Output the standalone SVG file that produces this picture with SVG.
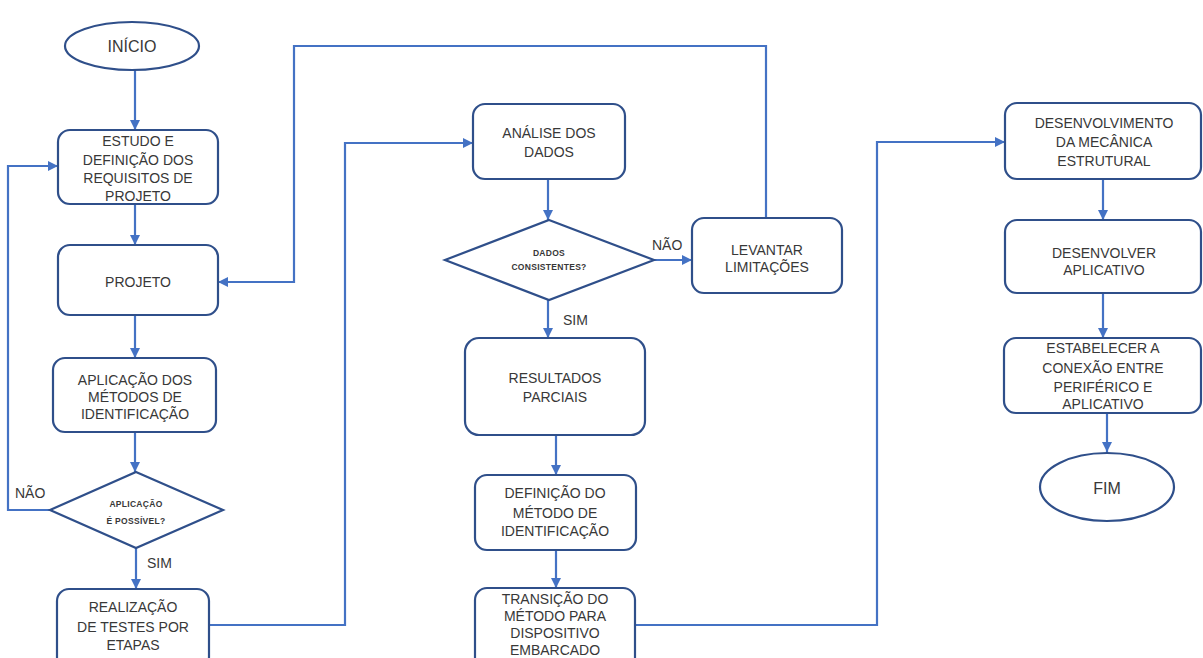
<svg xmlns="http://www.w3.org/2000/svg" width="1203" height="658" viewBox="0 0 1203 658">
<defs>
<marker id="ah" viewBox="0 0 10 10" refX="10" refY="5" markerWidth="10" markerHeight="10" markerUnits="userSpaceOnUse" orient="auto">
<path d="M0,0 L10,5 L0,10 Z" fill="#4472C4"/>
</marker>
<style>
.box{fill:#ffffff;stroke:#2F4F8A;stroke-width:2.2}
.con{fill:none;stroke:#4472C4;stroke-width:2.2}
.arr{marker-end:url(#ah)}
.t{font-family:"Liberation Sans",Arial,sans-serif;font-size:14px;fill:#383838;text-anchor:middle}
.b{font-size:16px}
.s{font-family:"Liberation Sans",Arial,sans-serif;font-size:8.5px;font-weight:bold;fill:#383838;text-anchor:middle;letter-spacing:0.3px}
.l{font-family:"Liberation Sans",Arial,sans-serif;font-size:14px;fill:#383838}
</style>
</defs>
<rect width="1203" height="658" fill="#ffffff"/>
<g id="connectors">
<path class="con arr" d="M135,70 L135,130"/>
<path class="con arr" d="M135,204 L135,245"/>
<path class="con arr" d="M135,315 L135,358"/>
<path class="con arr" d="M135,432 L135,472"/>
<path class="con arr" d="M136,548 L136,589"/>
<path class="con arr" d="M50,510 L8,510 L8,166 L58,166"/>
<path class="con arr" d="M209,625 L345,625 L345,143 L473,143"/>
<path class="con arr" d="M766,218 L766,46 L294,46 L294,282 L218,282"/>
<path class="con arr" d="M548,179 L548,220"/>
<path class="con arr" d="M654,260 L692,260"/>
<path class="con arr" d="M548,300 L548,338"/>
<path class="con arr" d="M556,435 L556,475"/>
<path class="con arr" d="M556,550 L556,588"/>
<path class="con arr" d="M635,625 L877,625 L877,142 L1005,142"/>
<path class="con arr" d="M1103,179 L1103,220"/>
<path class="con arr" d="M1103,293 L1103,338"/>
<path class="con arr" d="M1107,413 L1107,452"/>
<text class="l" x="15" y="498">NÃO</text>
<text class="l" x="147" y="568">SIM</text>
<text class="l" x="652" y="250">NÃO</text>
<text class="l" x="563" y="325">SIM</text>
</g>
<g id="inicio">
<ellipse class="box" cx="132" cy="46" rx="67" ry="24"/>
<text class="t b" x="132" y="52">INÍCIO</text>
</g>
<g id="estudo">
<rect class="box" x="58" y="130" width="160" height="74" rx="12"/>
<text class="t" x="138" y="146">ESTUDO E</text>
<text class="t" x="138" y="164.5">DEFINIÇÃO DOS</text>
<text class="t" x="138" y="183">REQUISITOS DE</text>
<text class="t" x="138" y="201">PROJETO</text>
</g>
<g id="projeto">
<rect class="box" x="58" y="245" width="160" height="70" rx="12"/>
<text class="t" x="138" y="287">PROJETO</text>
</g>
<g id="aplicacao">
<rect class="box" x="53" y="358" width="163" height="74" rx="12"/>
<text class="t" x="135" y="385">APLICAÇÃO DOS</text>
<text class="t" x="135" y="402">MÉTODOS DE</text>
<text class="t" x="135" y="419">IDENTIFICAÇÃO</text>
</g>
<g id="decisao1">
<polygon class="box" points="136,472 223,510 136,548 50,510"/>
<text class="s" x="136" y="507">APLICAÇÃO</text>
<text class="s" x="136" y="524">É POSSÍVEL?</text>
</g>
<g id="realizacao">
<rect class="box" x="57" y="589" width="152" height="80" rx="12"/>
<text class="t" x="133" y="612">REALIZAÇÃO</text>
<text class="t" x="133" y="632">DE TESTES POR</text>
<text class="t" x="133" y="650">ETAPAS</text>
</g>
<g id="analise">
<rect class="box" x="473" y="104" width="152" height="75" rx="12"/>
<text class="t" x="549" y="138">ANÁLISE DOS</text>
<text class="t" x="549" y="157">DADOS</text>
</g>
<g id="decisao2">
<polygon class="box" points="549,220 654,260 549,300 445,260"/>
<text class="s" x="549" y="256">DADOS</text>
<text class="s" x="549" y="270">CONSISTENTES?</text>
</g>
<g id="levantar">
<rect class="box" x="692" y="218" width="150" height="75" rx="12"/>
<text class="t" x="767" y="255">LEVANTAR</text>
<text class="t" x="767" y="272">LIMITAÇÕES</text>
</g>
<g id="resultados">
<rect class="box" x="465" y="338" width="180" height="97" rx="14"/>
<text class="t" x="555" y="383">RESULTADOS</text>
<text class="t" x="555" y="402">PARCIAIS</text>
</g>
<g id="definicao">
<rect class="box" x="475" y="475" width="161" height="75" rx="12"/>
<text class="t" x="555" y="498">DEFINIÇÃO DO</text>
<text class="t" x="555" y="518">MÉTODO DE</text>
<text class="t" x="555" y="536">IDENTIFICAÇÃO</text>
</g>
<g id="transicao">
<rect class="box" x="475" y="588" width="160" height="82" rx="12"/>
<text class="t" x="555" y="604">TRANSIÇÃO DO</text>
<text class="t" x="555" y="621">MÉTODO PARA</text>
<text class="t" x="555" y="638">DISPOSITIVO</text>
<text class="t" x="555" y="655">EMBARCADO</text>
</g>
<g id="desenvolvimento">
<rect class="box" x="1005" y="103" width="196" height="76" rx="12"/>
<text class="t" x="1104" y="128">DESENVOLVIMENTO</text>
<text class="t" x="1104" y="147">DA MECÂNICA</text>
<text class="t" x="1104" y="166">ESTRUTURAL</text>
</g>
<g id="desenvolver">
<rect class="box" x="1005" y="220" width="196" height="73" rx="12"/>
<text class="t" x="1104" y="258">DESENVOLVER</text>
<text class="t" x="1104" y="275">APLICATIVO</text>
</g>
<g id="estabelecer">
<rect class="box" x="1004" y="338" width="197" height="75" rx="12"/>
<text class="t" x="1103" y="353">ESTABELECER A</text>
<text class="t" x="1103" y="373">CONEXÃO ENTRE</text>
<text class="t" x="1103" y="392">PERIFÉRICO E</text>
<text class="t" x="1103" y="409">APLICATIVO</text>
</g>
<g id="fim">
<ellipse class="box" cx="1107" cy="487" rx="67" ry="34"/>
<text class="t b" x="1107" y="494">FIM</text>
</g>
</svg>
